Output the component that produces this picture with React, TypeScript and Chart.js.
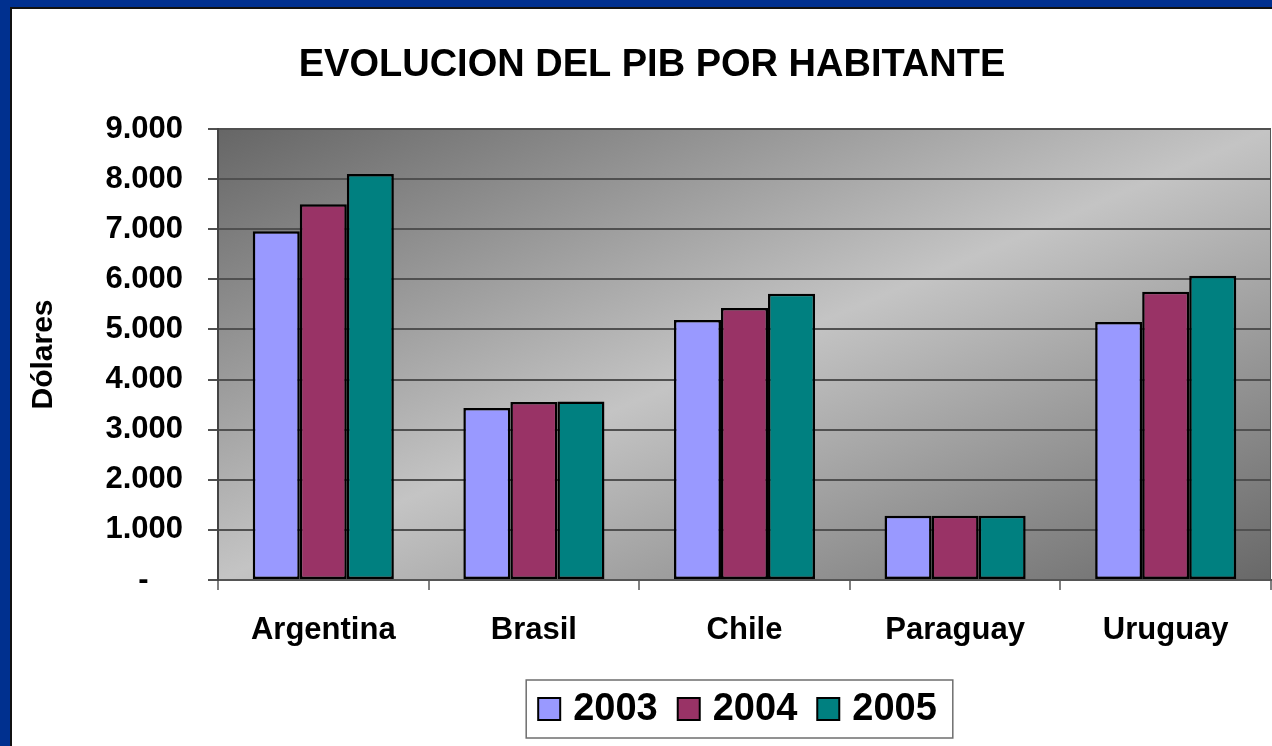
import React, { useEffect, useRef } from "react";
import { Chart, registerables } from "chart.js";

Chart.register(...registerables);

const TITLE = "EVOLUCION DEL PIB POR HABITANTE";
const Y_TITLE = "Dólares";
const COUNTRIES = ["Argentina", "Brasil", "Chile", "Paraguay", "Uruguay"];
const SERIES_LABELS = ["2003", "2004", "2005"];
const SERIES_COLORS = ["#9999FF", "#993366", "#008080"];
const VALUES_2003 = [6960, 3430, 5190, 1280, 5150];
const VALUES_2004 = [7500, 3550, 5430, 1280, 5750];
const VALUES_2005 = [8100, 3560, 5710, 1280, 6070];
const Y_MIN = 0;
const Y_MAX = 9000;
const Y_STEP = 1000;

const FONT = "'Liberation Sans', Arial, Helvetica, sans-serif";

function fmt(v: number): string {
  if (v === 0) return "-    ";
  return String(v).replace(/\B(?=(\d{3})+(?!\d))/g, ".");
}

const backgroundPlugin = {
  id: "plotBackground",
  beforeDraw(chart: any) {
    const { ctx, chartArea } = chart;
    if (!chartArea) return;
    const { left, top, right, bottom } = chartArea;
    const w = right - left;
    const h = bottom - top;
    const cx = left + w / 2;
    const cy = top + h / 2;
    const k = (w * h) / (w * w + h * h);
    const g = ctx.createLinearGradient(cx - k * h, cy - k * w, cx + k * h, cy + k * w);
    g.addColorStop(0, "#666666");
    g.addColorStop(0.5, "#c4c4c4");
    g.addColorStop(1, "#686868");
    ctx.save();
    ctx.fillStyle = g;
    ctx.fillRect(left, top, w, h);
    ctx.strokeStyle = "#555";
    ctx.lineWidth = 1;
    ctx.beginPath();
    ctx.moveTo(right - 0.5, top);
    ctx.lineTo(right - 0.5, bottom);
    ctx.stroke();
    ctx.restore();
  },
};

const titleLegendPlugin = {
  id: "titleLegend",
  afterDraw(chart: any) {
    const { ctx, chartArea, width } = chart;
    ctx.save();
    // Title
    ctx.fillStyle = "#000";
    ctx.font = `bold 38px ${FONT}`;
    ctx.textAlign = "center";
    ctx.textBaseline = "middle";
    ctx.fillText(TITLE, width / 2 + 10, 57);

    // Legend
    const fontPx = 38;
    ctx.font = `bold ${fontPx}px ${FONT}`;
    const sw = 22;
    const gap = 13;
    const itemGap = 20;
    const padL = 12;
    const padR = 16;
    const datasets = chart.data.datasets;
    const widths = datasets.map((d: any) => ctx.measureText(d.label).width);
    let total = padL + padR;
    widths.forEach((tw: number, i: number) => {
      total += sw + gap + tw + (i < widths.length - 1 ? itemGap : 0);
    });
    const boxH = 58;
    const boxTop = chartArea.bottom + 100;
    const boxLeft = (chartArea.left + chartArea.right) / 2 - total / 2 - 5;
    ctx.fillStyle = "#fff";
    ctx.fillRect(boxLeft, boxTop, total, boxH);
    ctx.strokeStyle = "#6e6e6e";
    ctx.lineWidth = 1.5;
    ctx.strokeRect(boxLeft, boxTop, total, boxH);
    const midY = boxTop + boxH / 2;
    let x = boxLeft + padL;
    datasets.forEach((d: any, i: number) => {
      ctx.fillStyle = d.backgroundColor;
      ctx.fillRect(x, midY - sw / 2, sw, sw);
      ctx.strokeStyle = "#000";
      ctx.lineWidth = 2;
      ctx.strokeRect(x, midY - sw / 2, sw, sw);
      x += sw + gap;
      ctx.fillStyle = "#000";
      ctx.textAlign = "left";
      ctx.textBaseline = "middle";
      ctx.fillText(d.label, x, midY + 1);
      x += widths[i] + itemGap;
    });
    ctx.restore();
  },
};

export default function App() {
  const canvasRef = useRef<HTMLCanvasElement | null>(null);

  useEffect(() => {
    if (!canvasRef.current) return;
    const seriesValues = [VALUES_2003, VALUES_2004, VALUES_2005];
    const chart = new Chart(canvasRef.current, {
      type: "bar",
      data: {
        labels: COUNTRIES,
        datasets: SERIES_LABELS.map((label, i) => ({
          label,
          data: seriesValues[i],
          backgroundColor: SERIES_COLORS[i],
          borderColor: "#000",
          borderWidth: 2.5,
          borderSkipped: false,
          categoryPercentage: 0.67,
          barPercentage: 1.0,
        })),
      },
      options: {
        animation: false,
        responsive: false,
        maintainAspectRatio: false,
        devicePixelRatio: 1,
        layout: { padding: { top: 120, right: 1, left: 0, bottom: 0 } },
        plugins: {
          legend: { display: false },
          title: { display: false },
          tooltip: { enabled: false },
        },
        scales: {
          x: {
            afterFit: (scale: any) => {
              scale.height = 166;
            },
            grid: {
              display: true,
              offset: true,
              drawOnChartArea: false,
              drawTicks: true,
              tickLength: 10,
              color: "#808080",
              lineWidth: 2,
            },
            border: { display: true, color: "#555", width: 2 },
            ticks: {
              color: "#000",
              padding: 22,
              font: { family: FONT, size: 31, weight: "bold" },
              maxRotation: 0,
            },
          },
          y: {
            min: Y_MIN,
            max: Y_MAX,
            afterFit: (scale: any) => {
              scale.width = 206;
            },
            grid: {
              color: "#505050",
              lineWidth: 2,
              drawTicks: true,
              tickLength: 10,
            },
            border: { display: true, color: "#444", width: 2 },
            ticks: {
              stepSize: Y_STEP,
              color: "#000",
              padding: 25,
              font: { family: FONT, size: 31, weight: "bold" },
              callback: (v: any) => fmt(Number(v)),
            },
            title: {
              display: true,
              text: Y_TITLE,
              color: "#000",
              font: { family: FONT, size: 30, weight: "bold" },
              padding: { top: 14, bottom: 0 },
            },
          },
        },
      },
      plugins: [backgroundPlugin, titleLegendPlugin],
    } as any);
    return () => chart.destroy();
  }, []);

  return (
    <div
      style={{
        position: "fixed",
        left: 0,
        top: 0,
        width: 1272,
        height: 746,
        background: "#00308f",
        overflow: "hidden",
      }}
    >
      <div
        style={{
          position: "absolute",
          left: 10,
          top: 7,
          width: 1262,
          height: 739,
          background: "#fff",
          borderLeft: "2px solid #111",
          borderTop: "2px solid #111",
          boxSizing: "border-box",
        }}
      />
      <canvas
        ref={canvasRef}
        width={1260}
        height={737}
        style={{ position: "absolute", left: 12, top: 9, width: 1260, height: 737 }}
      />
    </div>
  );
}
